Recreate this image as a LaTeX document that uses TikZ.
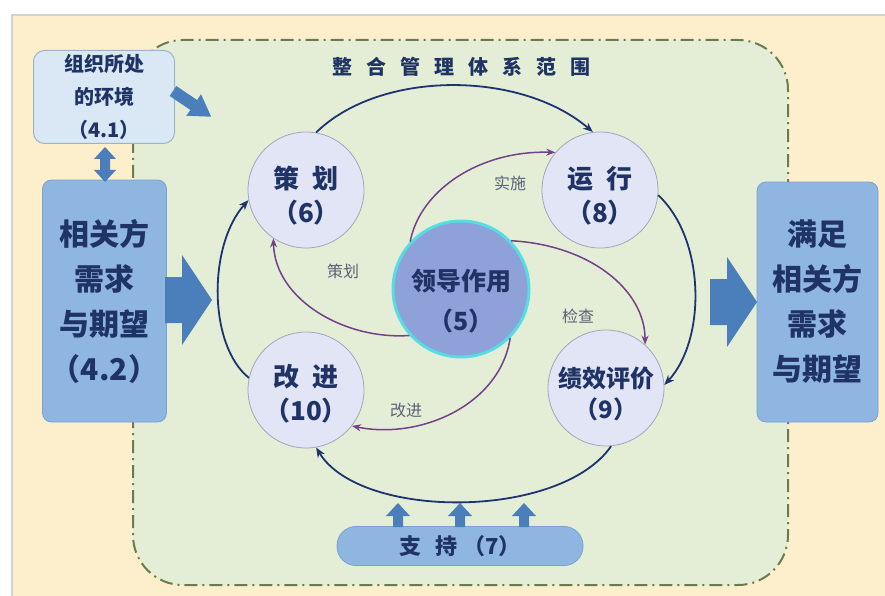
\documentclass[tikz,border=0pt]{standalone}
\usepackage{fontspec}
\setmainfont{Noto Sans CJK SC}
\usetikzlibrary{arrows.meta,calc}
\definecolor{beige}{HTML}{FDEFCB}
\definecolor{scopegreen}{HTML}{E4EED6}
\definecolor{scopeline}{HTML}{6B7B4E}
\definecolor{navy}{HTML}{1F3366}
\definecolor{loopblue}{HTML}{1E3372}
\definecolor{leadpurple}{HTML}{74408A}
\definecolor{circfill}{HTML}{E2E5F6}
\definecolor{circedge}{HTML}{A3A6BD}
\definecolor{leadfill}{HTML}{8EA1D8}
\definecolor{leadedge}{HTML}{55DDE3}
\definecolor{envfill}{HTML}{DAE8F6}
\definecolor{envedge}{HTML}{9DB3C9}
\definecolor{boxfill}{HTML}{8FB5E1}
\definecolor{boxedge}{HTML}{7AA2D3}
\definecolor{arrowblue}{HTML}{4A7FBC}
\definecolor{lblgray}{HTML}{5A6278}
\tikzset{
  stage/.style={circle, draw=circedge, line width=0.8pt, fill=circfill, minimum size=116pt, inner sep=0pt},
  stagetext/.style={align=center, text=navy, inner sep=0pt, font=\bfseries\fontsize{26}{34}\selectfont},
  bigbox/.style={rounded corners=9pt, draw=boxedge, line width=0.8pt, fill=boxfill, align=center, text=navy, font=\bfseries\fontsize{30}{45}\selectfont, inner sep=0pt},
  loopline/.style={draw=loopblue, line width=1.8pt, -{Stealth[length=10pt,width=8pt]}},
  leadline/.style={draw=leadpurple, line width=1.5pt, -{Stealth[length=9pt,width=7pt]}},
  lbl/.style={font=\fontsize{16}{18}\selectfont, text=lblgray},
  barrow/.style={fill=arrowblue},
}
\begin{document}
\begin{tikzpicture}[x=1pt,y=-1pt]
\useasboundingbox (0,0) rectangle (885,596);
\fill[white] (0,0) rectangle (885,596);
\fill[beige] (12,15) rectangle (885,596);
\draw[gray!35, line width=1.2pt] (12,596) -- (12,15) -- (885,15);
% scope region
\draw[scopeline, line width=2pt, fill=scopegreen, rounded corners=50pt,
      dash pattern=on 13pt off 5pt on 2pt off 5pt] (133,40) rectangle (788,585);
\node[font=\bfseries\fontsize{20}{22}\selectfont, text=navy] (title) at (461,67)
  {整\hspace{14pt}合\hspace{14pt}管\hspace{14pt}理\hspace{14pt}体\hspace{14pt}系\hspace{14pt}范\hspace{14pt}围};
% side boxes
\node[rounded corners=11pt, draw=envedge, line width=1pt, fill=envfill, align=center, text=navy,
      font=\bfseries\fontsize{20}{33}\selectfont, minimum width=141pt, minimum height=93pt, inner sep=0pt]
      (env) at (104,97) {组织所处\\的环境\\（4.1）};
\node[bigbox, minimum width=124pt, minimum height=242pt] (stake) at (104.5,301)
  {相关方\\需求\\与期望\\（4.2）};
\node[bigbox, minimum width=121pt, minimum height=240pt] (satisfy) at (817.5,302)
  {满足\\相关方\\需求\\与期望};
% circles
\node[stage, label={[stagetext, yshift=-6pt]center:{策\hspace{14pt}划\\（6）}}] (plan) at (306,190) {};
\node[stage, label={[stagetext, yshift=-6pt]center:{运\hspace{14pt}行\\（8）}}] (run) at (600,190) {};
\node[stage, label={[stagetext, yshift=-4pt]center:{改\hspace{14pt}进\\（10）}}] (improve) at (306,390) {};
\node[stage, label={[stagetext, yshift=-6pt, font=\bfseries\fontsize{24}{31}\selectfont]center:{绩效评价\\（9）}}] (eval) at (606,388) {};
\node[circle, draw=leadedge, line width=3pt, fill=leadfill, minimum size=136pt, inner sep=0pt,
      label={[stagetext, yshift=-12pt, font=\bfseries\fontsize{25}{40}\selectfont]center:{领导作用\\（5）}}]
      (lead) at (461,289) {};
% support
\node[rounded corners=19pt, draw=boxedge, line width=0.8pt, fill=boxfill, minimum width=246pt,
      minimum height=39pt, inner sep=0pt, text=navy, font=\bfseries\fontsize{22}{24}\selectfont]
      (support) at (460,546) {支\hspace{14pt}持\hspace{6pt}（7）};
% block arrows
\fill[barrow] (165,277) -- (182,277) -- (182,255) -- (212,300) -- (182,345) -- (182,323) -- (165,323) -- cycle;
\fill[barrow] (710,279) -- (727,279) -- (727,257) -- (757,302) -- (727,347) -- (727,325) -- (710,325) -- cycle;
\begin{scope}[shift={(173,91)}, rotate=-34]
  \fill[barrow] (0,-6) -- (25,-6) -- (25,-13) -- (46,0) -- (25,13) -- (25,6) -- (0,6) -- cycle;
\end{scope}
\fill[barrow] (105,147) -- (116,159) -- (110,159) -- (110,170) -- (116,170) -- (105,182)
  -- (94,170) -- (100,170) -- (100,159) -- (94,159) -- cycle;
\foreach \ax in {398,460,524}{
  \fill[barrow] (\ax,503) -- (\ax+12,516) -- (\ax+5,516) -- (\ax+5,527) -- (\ax-5,527) -- (\ax-5,516) -- (\ax-12,516) -- cycle;
}
% main loop
\draw[loopline] (plan.80) .. controls (380,70) and (520,70) .. (run.97);
\draw[loopline] (run.-5) .. controls (706,240) and (706,340) .. (eval.3);
\draw[loopline] (eval.-85) .. controls (560,520) and (360,520) .. (improve.-80);
\draw[loopline] (improve.168) .. controls (208,345) and (208,245) .. (plan.190);
% leadership arrows
\draw[leadline] (lead.137) .. controls (420,190) and (480,150) .. (run.140);
\draw[leadline] (lead.44) .. controls (590,245) and (645,290) .. (eval.48);
\draw[leadline] (lead.-45) .. controls (500,405) and (420,440) .. (improve.-38);
\draw[leadline] (lead.-138) .. controls (345,340) and (275,300) .. (plan.-124);
\node[lbl] (l1) at (510,183) {实施};
\node[lbl] (l2) at (343,271) {策划};
\node[lbl] (l3) at (578,316) {检查};
\node[lbl] (l4) at (406,410) {改进};
\end{tikzpicture}
\end{document}
